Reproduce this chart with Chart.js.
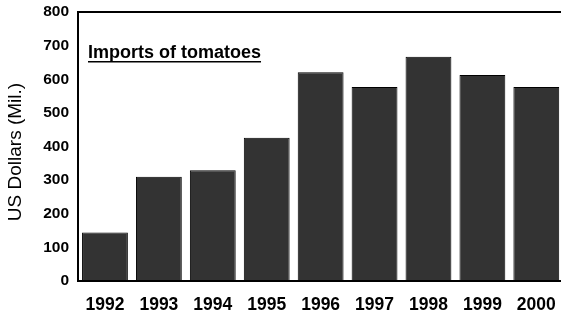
<!DOCTYPE html>
<html>
<head>
<meta charset="utf-8">
<script src="https://cdn.jsdelivr.net/npm/chart.js@4/dist/chart.umd.min.js"></script>
<style>
  html, body { margin: 0; padding: 0; background: #fff; overflow: hidden; }
  #wrap { position: relative; width: 570px; height: 311px; }
</style>
</head>
<body>
<div id="wrap"><canvas id="chart"></canvas></div>
<script>
const years = ['1992', '1993', '1994', '1995', '1996', '1997', '1998', '1999', '2000'];
const imports = [144, 310, 329, 426, 621, 577, 667, 613, 577];
const yTicks = [0, 100, 200, 300, 400, 500, 600, 700, 800];
const chartTitle = 'Imports of tomatoes';
const yTitle = 'US Dollars (Mil.)';

// frame + titles drawn by hand, like the original spreadsheet chart
const decor = {
    id: 'decor',
    afterDraw(chart) {
        const { ctx, chartArea: a } = chart;
        ctx.save();
        ctx.strokeStyle = '#000';
        ctx.lineWidth = 2;
        ctx.strokeRect(a.left, a.top, a.right - a.left, a.bottom - a.top);

        ctx.fillStyle = '#000';
        ctx.font = 'bold 18px "Liberation Sans", Arial, sans-serif';
        ctx.textBaseline = 'alphabetic';
        ctx.textAlign = 'left';
        const tx = 88, ty = 58;
        ctx.fillText(chartTitle, tx, ty);
        const w = ctx.measureText(chartTitle).width;
        ctx.fillRect(tx, ty + 3, w, 1.5);

        ctx.translate(16, 152);
        ctx.rotate(-Math.PI / 2);
        ctx.font = '19px "Liberation Sans", Arial, sans-serif';
        ctx.textAlign = 'center';
        ctx.textBaseline = 'middle';
        ctx.fillText(yTitle, 0, 0);
        ctx.restore();
    }
};

new Chart(document.getElementById('chart'), {
    type: 'bar',
    data: {
        labels: years,
        datasets: [{
            data: imports,
            backgroundColor: '#333333',
            borderColor: '#000',
            borderWidth: 1,
            barPercentage: 0.85,
            categoryPercentage: 1
        }]
    },
    plugins: [decor],
    options: {
        responsive: true,
        maintainAspectRatio: false,
        animation: false,
        layout: { padding: { top: 12, right: 4, left: 0, bottom: 0 } },
        plugins: { legend: { display: false }, tooltip: { enabled: false } },
        scales: {
            x: {
                grid: { display: false, drawTicks: false },
                border: { display: false },
                ticks: {
                    color: '#000',
                    padding: 14,
                    maxRotation: 0,
                    font: { family: '"Liberation Sans", Arial', size: 17.5, weight: 'bold' }
                },
                afterFit(scale) { scale.height = 30; }
            },
            y: {
                min: 0,
                max: 800,
                grid: { display: false, drawTicks: false },
                border: { display: false },
                afterBuildTicks(scale) { scale.ticks = yTicks.map(v => ({ value: v })); },
                ticks: {
                    color: '#000',
                    padding: 9,
                    font: { family: '"Liberation Sans", Arial', size: 15.5, weight: 'bold' }
                },
                afterFit(scale) {
                    scale.width = 78;
                    scale.paddingTop = 0;
                    scale.paddingBottom = 0;
                }
            }
        }
    }
});
</script>
</body>
</html>
